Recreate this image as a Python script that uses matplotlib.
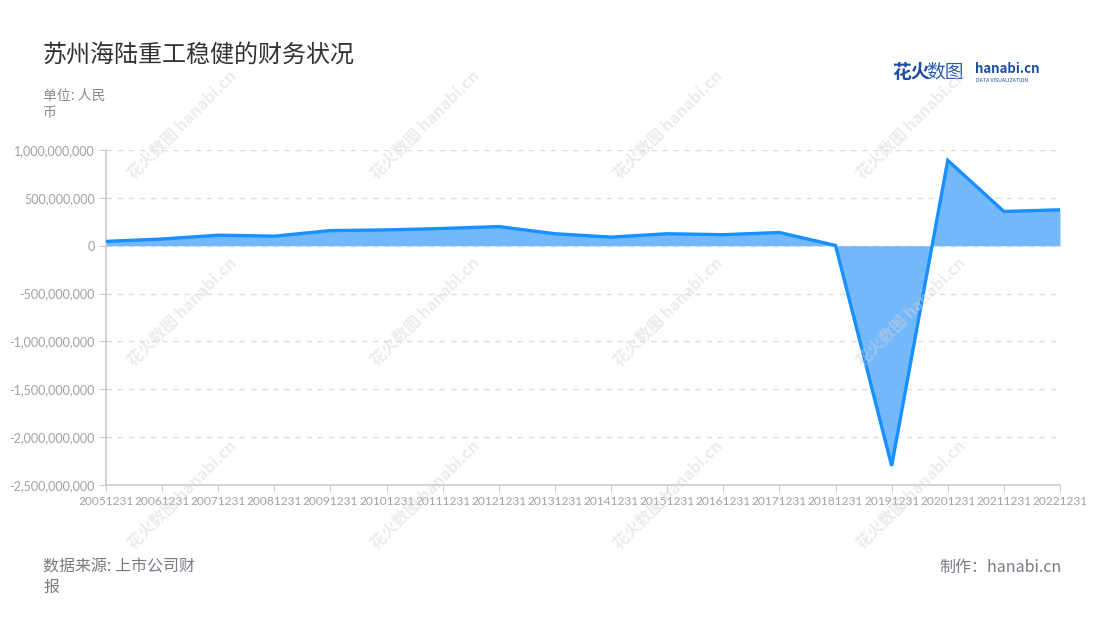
import matplotlib
matplotlib.use("Agg")
import matplotlib.pyplot as plt
from matplotlib.ticker import FuncFormatter

plt.rcParams['font.family'] = ['Noto Sans CJK SC', 'DejaVu Sans']

# data
periods = ["20051231", "20061231", "20071231", "20081231", "20091231", "20101231",
           "20111231", "20121231", "20131231", "20141231", "20151231", "20161231",
           "20171231", "20181231", "20191231", "20201231", "20211231", "20221231"]
values = [45e6, 70e6, 110e6, 100e6, 158e6, 165e6,
          180e6, 200e6, 125e6, 90e6, 125e6, 115e6,
          138e6, 3e6, -2.30e9, 0.892e9, 0.358e9, 0.375e9]
y_ticks = [1e9, 5e8, 0, -5e8, -1e9, -1.5e9, -2e9, -2.5e9]

LINE = "#1890ff"
FILL = "#74b8fc"

fig = plt.figure(figsize=(11, 6.2), dpi=100)
ax = fig.add_axes([106 / 1100, 1 - 485 / 620, 954 / 1100, 335 / 620])

x = list(range(len(periods)))
ax.fill_between(x, values, 0, color=FILL, linewidth=0, zorder=2)
ax.plot(x, values, color=LINE, linewidth=2.4, zorder=3, solid_joinstyle="miter")

ax.set_xlim(0, len(periods) - 1)
ax.set_ylim(-2.5e9, 1e9)
ax.set_yticks(y_ticks)
ax.yaxis.set_major_formatter(FuncFormatter(lambda v, p: f"{int(v):,}"))
ax.set_xticks(x)
ax.set_xticklabels(periods)

ax.grid(axis="y", color="#dddddd", linestyle=(0, (4, 4)), linewidth=1, zorder=1)
ax.grid(axis="x", visible=False)
for s in ["top", "right"]:
    ax.spines[s].set_visible(False)
for s in ["left", "bottom"]:
    ax.spines[s].set_color("#cccccc")
    ax.spines[s].set_linewidth(1.2)
ax.tick_params(axis="both", colors="#cccccc", labelcolor="#a0a0a8", length=5)
ax.tick_params(axis="x", pad=3)
ax.tick_params(axis="y", pad=3)
for lab in ax.get_xticklabels():
    lab.set_family(["Lato", "DejaVu Sans"])
    lab.set_fontsize(8.6)
for lab in ax.get_yticklabels():
    lab.set_family(["Lato", "DejaVu Sans"])
    lab.set_fontsize(9)

# watermarks
for wy in [125, 312, 495]:
    for wx in [182, 425, 668, 911]:
        fig.text(wx / 1100, 1 - wy / 620, "花火数图 hanabi.cn", rotation=45,
                 color="#d4d4d4", alpha=0.45, fontsize=11.5, fontweight="bold",
                 ha="center", va="center", zorder=5)

# titles and notes
fig.text(43 / 1100, 1 - 55 / 620, "苏州海陆重工稳健的财务状况", fontsize=17.3,
         color="#333333", va="center")
fig.text(43 / 1100, 1 - 96 / 620, "单位: 人民", fontsize=10, color="#8a8a96", va="center")
fig.text(43 / 1100, 1 - 113 / 620, "币", fontsize=10, color="#8a8a96", va="center")
fig.text(43 / 1100, 1 - 567 / 620, "数据来源: 上市公司财", fontsize=11.5, color="#7a7a86", va="center")
fig.text(43 / 1100, 1 - 587 / 620, "报", fontsize=11.5, color="#7a7a86", va="center")
fig.text(1062 / 1100, 1 - 567 / 620, "制作：hanabi.cn", fontsize=11.5, color="#7a7a86",
         va="center", ha="right")

# logo
fig.text(892 / 1100, 1 - 72 / 620, "花火", fontsize=13.5, color="#1d4ea0",
         fontweight="bold", va="center")
fig.text(926 / 1100, 1 - 72 / 620, "数图", fontsize=13.5, color="#2a5cb0", va="center")
fig.text(975 / 1100, 1 - 69 / 620, "hanabi.cn", fontsize=9.5, color="#1d4ea0",
         fontweight="bold", va="center")
fig.text(976 / 1100, 1 - 80 / 620, "DATA VISUALIZATION", fontsize=3.8, color="#1d4ea0",
         va="center")

fig.savefig("out.png", dpi=100)
